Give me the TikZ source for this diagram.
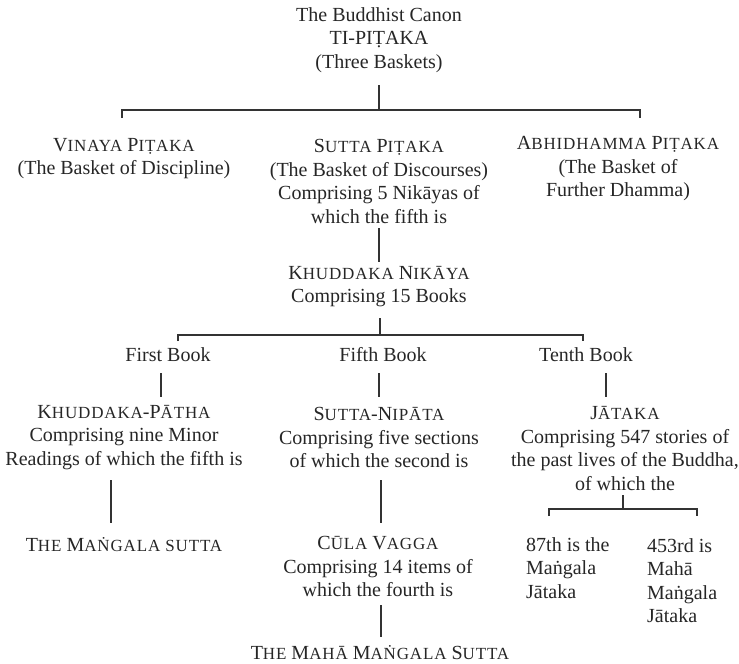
\documentclass[tikz,border=0pt]{standalone}
\usepackage{fontspec}
\setmainfont{Liberation Serif}
\newcommand\smc[1]{{\fontsize{17}{23.5}\selectfont\addfontfeature{LetterSpace=5}#1}}
\begin{document}
\begin{tikzpicture}[x=1pt,y=-1pt,
  txt/.style={align=center,inner sep=0pt,text=black!85,font=\fontsize{20}{23.5}\selectfont},
  lft/.style={align=left,inner sep=0pt,text=black!85,font=\fontsize{20}{23.5}\selectfont},
  conn/.style={draw=black!80,line width=1.5pt}]
\useasboundingbox (0,0) rectangle (739,664);
% nodes
\node[txt] (top) at (379,40) {The Buddhist Canon\\TI-PIṬAKA\\(Three Baskets)};
\node[txt] (vin) at (124,158.5) {V\smc{INAYA} P\smc{IṬAKA}\\(The Basket of Discipline)};
\node[txt] (sut) at (379,181.5) {S\smc{UTTA} P\smc{IṬAKA}\\(The Basket of Discourses)\\Comprising 5 Nikāyas of\\which the fifth is};
\node[txt] (abh) at (618,169) {A\smc{BHIDHAMMA} P\smc{IṬAKA}\\(The Basket of\\Further Dhamma)};
\node[txt] (khu) at (379,286.5) {K\smc{HUDDAKA} N\smc{IKĀYA}\\Comprising 15 Books};
\node[txt] (b1) at (168,355) {First Book};
\node[txt] (b5) at (383,355) {Fifth Book};
\node[txt] (b10) at (586,355) {Tenth Book};
\node[txt] (kp) at (124,437.5) {K\smc{HUDDAKA}-P\smc{ĀTHA}\\Comprising nine Minor\\Readings of which the fifth is};
\node[txt] (sn) at (379,437.5) {S\smc{UTTA}-N\smc{IPĀTA}\\Comprising five sections\\of which the second is};
\node[txt] (jat) at (625,448.5) {J\smc{ĀTAKA}\\Comprising 547 stories of\\the past lives of the Buddha,\\of which the};
\node[txt] (ms) at (124,545) {T\smc{HE} M\smc{AṄGALA SUTTA}};
\node[txt] (cv) at (378,566.5) {C\smc{ŪLA} V\smc{AGGA}\\Comprising 14 items of\\which the fourth is};
\node[txt] (mms) at (380,653) {T\smc{HE} M\smc{AHĀ} M\smc{AṄGALA} S\smc{UTTA}};
\node[lft,anchor=west] (j87) at (526,568) {87th is the\\Maṅgala\\Jātaka};
\node[lft,anchor=west] (j453) at (647,580.5) {453rd is\\Mahā\\Maṅgala\\Jātaka};
% bracket coordinates
\coordinate (t1) at (379,85);
\coordinate (t2) at (379,110);
\coordinate (tl) at (122,110);
\coordinate (tr) at (640,110);
\coordinate (tld) at (122,118);
\coordinate (trd) at (640,118);
\coordinate (s1) at (379,228);
\coordinate (s2) at (379,262);
\coordinate (k1) at (380,318);
\coordinate (k2) at (380,335);
\coordinate (kl) at (178,335);
\coordinate (kr) at (583,335);
\coordinate (kld) at (178,341);
\coordinate (krd) at (583,341);
\coordinate (f1a) at (161,373); \coordinate (f1b) at (161,397);
\coordinate (f5a) at (379,373); \coordinate (f5b) at (379,397);
\coordinate (f10a) at (606,373); \coordinate (f10b) at (606,397);
\coordinate (p1) at (111,480); \coordinate (p2) at (111,523);
\coordinate (n1) at (381,480); \coordinate (n2) at (381,523);
\coordinate (j1) at (623,495);
\coordinate (j2) at (623,509);
\coordinate (jl) at (549,509);
\coordinate (jr) at (697,509);
\coordinate (jld) at (549,516);
\coordinate (jrd) at (697,516);
\coordinate (c1) at (381,605); \coordinate (c2) at (381,637);
% connectors
\draw[conn] (t1) -- (t2);
\draw[conn] (tld) -- (tl) -- (tr) -- (trd);
\draw[conn] (s1) -- (s2);
\draw[conn] (k1) -- (k2);
\draw[conn] (kld) -- (kl) -- (kr) -- (krd);
\draw[conn] (f1a) -- (f1b);
\draw[conn] (f5a) -- (f5b);
\draw[conn] (f10a) -- (f10b);
\draw[conn] (p1) -- (p2);
\draw[conn] (n1) -- (n2);
\draw[conn] (j1) -- (j2);
\draw[conn] (jld) -- (jl) -- (jr) -- (jrd);
\draw[conn] (c1) -- (c2);
\end{tikzpicture}
\end{document}
